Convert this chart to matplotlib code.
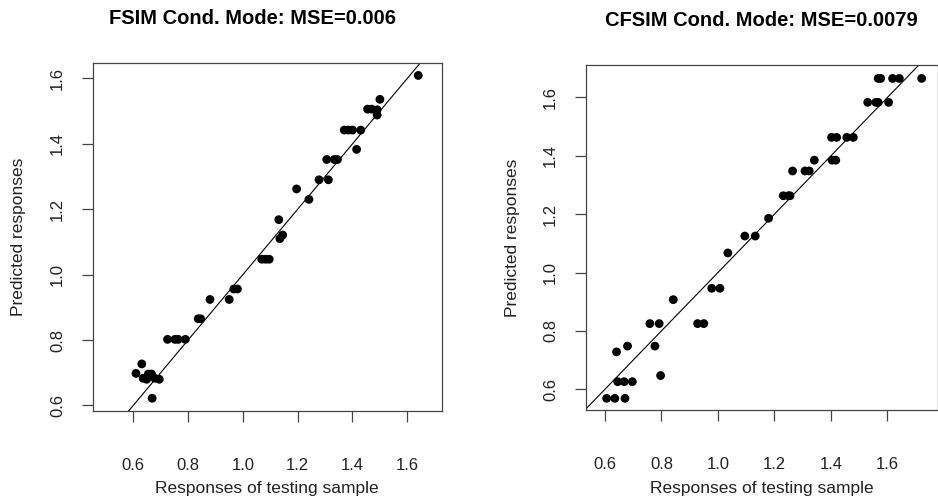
import matplotlib
matplotlib.use("Agg")
import matplotlib.pyplot as plt

plt.rcParams['font.family'] = ['Liberation Sans', 'DejaVu Sans']

# FSIM panel: observed vs predicted
fsim_obs = [1.64, 1.50, 1.455, 1.47, 1.49, 1.49, 1.37, 1.385, 1.40, 1.43,
            1.415, 1.306, 1.334, 1.345, 1.278, 1.312, 1.196, 1.241, 1.131, 1.135,
            1.145, 1.069, 1.083, 1.096, 0.967, 0.980, 0.950, 0.880, 0.837, 0.846,
            0.725, 0.752, 0.764, 0.790, 0.631, 0.610, 0.636, 0.649, 0.655, 0.667,
            0.679, 0.695, 0.669]
fsim_pred = [1.609, 1.536, 1.506, 1.506, 1.504, 1.488, 1.442, 1.442, 1.442, 1.442,
             1.383, 1.352, 1.352, 1.352, 1.290, 1.290, 1.262, 1.230, 1.168, 1.110,
             1.121, 1.047, 1.047, 1.047, 0.956, 0.956, 0.924, 0.924, 0.865, 0.865,
             0.802, 0.802, 0.802, 0.802, 0.727, 0.698, 0.683, 0.680, 0.696, 0.696,
             0.683, 0.680, 0.622]

# CFSIM panel
cfsim_obs = [1.567, 1.576, 1.618, 1.642, 1.721, 1.530, 1.559, 1.567, 1.604, 1.402,
             1.420, 1.456, 1.479, 1.404, 1.417, 1.341, 1.308, 1.323, 1.264, 1.231,
             1.249, 1.255, 1.179, 1.095, 1.132, 1.035, 0.978, 1.007, 0.842, 0.759,
             0.792, 0.928, 0.950, 0.777, 0.680, 0.641, 0.797, 0.645, 0.668, 0.697,
             0.606, 0.635, 0.671]
cfsim_pred = [1.665, 1.665, 1.665, 1.665, 1.665, 1.583, 1.583, 1.583, 1.583, 1.463,
              1.463, 1.463, 1.463, 1.385, 1.385, 1.385, 1.348, 1.348, 1.348, 1.263,
              1.263, 1.263, 1.186, 1.125, 1.125, 1.067, 0.946, 0.946, 0.907, 0.825,
              0.825, 0.825, 0.825, 0.748, 0.748, 0.728, 0.647, 0.626, 0.626, 0.626,
              0.569, 0.569, 0.569]

ticks = [0.6, 0.8, 1.0, 1.2, 1.4, 1.6]
tick_labels = ["0.6", "0.8", "1.0", "1.2", "1.4", "1.6"]

W, H = 938, 504
fig = plt.figure(figsize=(W / 100, H / 100), dpi=100)


def panel(box, obs, pred, xlim, ylim):
    x0, y0, x1, y1 = box  # pixel coordinates (top-left origin)
    ax = fig.add_axes([x0 / W, 1 - y1 / H, (x1 - x0) / W, (y1 - y0) / H])
    ax.scatter(obs, pred, s=40, color='black', edgecolors='none', zorder=3)
    ax.axline((0, 0), slope=1, color='black', lw=0.8)
    ax.set_xlim(xlim)
    ax.set_ylim(ylim)
    ax.set_xticks(ticks)
    ax.set_xticklabels(tick_labels)
    ax.set_yticks(ticks)
    ax.set_yticklabels(tick_labels, rotation=90, va='center')
    ax.tick_params(axis='x', length=8, width=0.9, color='#444444', pad=26,
                   labelsize=12, labelcolor='#222222')
    ax.tick_params(axis='y', length=8, width=0.9, color='#444444', pad=12,
                   labelsize=12, labelcolor='#222222')
    for sp in ax.spines.values():
        sp.set_color('#444444')
        sp.set_linewidth(0.9)
    ax.set_xlabel("Responses of testing sample", fontsize=12.5, color='#222222')
    ax.set_ylabel("Predicted responses", fontsize=12.5, color='#222222')
    ax.xaxis.label.set_va('center')
    ax.yaxis.label.set_va('center')
    ax.xaxis.set_label_coords(0.5, -(488 - y1) / (y1 - y0))
    return ax


axL = panel((92.7, 62.7, 441.7, 411), fsim_obs, fsim_pred,
            (0.452, 1.7255), (0.583, 1.648))
axL.yaxis.set_label_coords((18 - 92.7) / 349, 0.5)
axL.text((252.5 - 92.7) / 349, 1 + (62.7 - 18) / 348.3,
         "FSIM Cond. Mode: MSE=0.006", transform=axL.transAxes,
         ha='center', va='center', fontsize=14.5, fontweight='bold')

axR = panel((586, 65, 937.5, 410), cfsim_obs, cfsim_pred,
            (0.533, 1.777), (0.529, 1.711))
axR.yaxis.set_label_coords((512 - 586) / 351.5, 0.5)
axR.text((761.5 - 586) / 351.5, 1 + (65 - 20) / 345,
         "CFSIM Cond. Mode: MSE=0.0079", transform=axR.transAxes,
         ha='center', va='center', fontsize=14.5, fontweight='bold')

fig.savefig("out.png", dpi=100)
